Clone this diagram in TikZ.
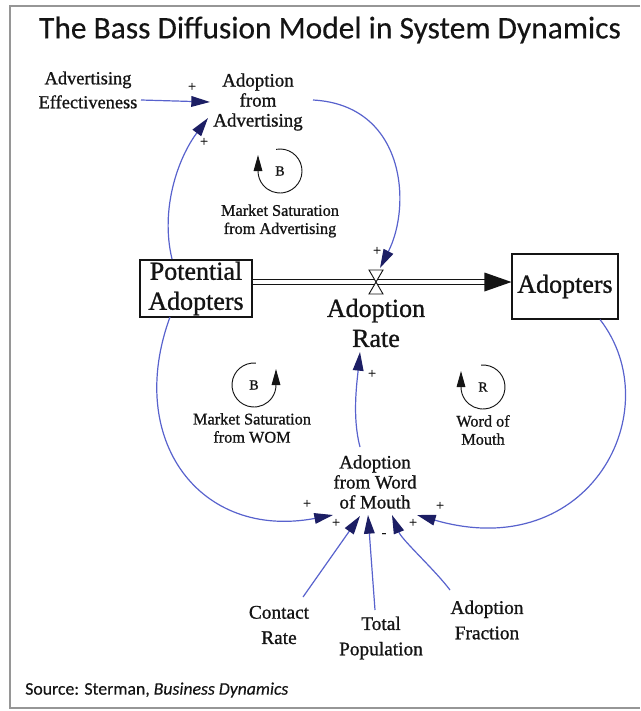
\documentclass[tikz,border=0pt]{standalone}
\usepackage{fontspec}
\setmainfont{Liberation Serif}[FakeBold=1]
\newfontfamily\calib{Carlito}[FakeBold=0.3]
\usetikzlibrary{arrows.meta,calc}
\definecolor{linkblue}{RGB}{88,98,205}
\definecolor{headnavy}{RGB}{28,30,100}
\definecolor{framegray}{RGB}{150,150,150}
\definecolor{inkblack}{RGB}{20,20,20}

\tikzset{
  link/.style={draw=linkblue, line width=0.9pt,
    -{Triangle[length=14pt,width=8pt,color=headnavy]}},
  loopmark/.style={draw=inkblack, line width=0.7pt,
    -{Triangle[length=12pt,width=6.5pt,color=inkblack]}},
  lbl/.style={align=center, inner sep=0pt, text=inkblack,
    font=\fontsize{13.8}{18}\selectfont},
  lblmid/.style={align=center, inner sep=0pt, text=inkblack,
    font=\fontsize{14.2}{15}\selectfont},
  lblbot/.style={align=center, inner sep=0pt, text=inkblack,
    font=\fontsize{14.5}{19}\selectfont},
  loopname/.style={align=center, inner sep=0pt, text=inkblack,
    font=\fontsize{12.2}{13.6}\selectfont},
  stock/.style={draw=inkblack, line width=0.8pt, align=center, inner sep=0pt,
    text=inkblack, font=\fontsize{19.5}{22.5}\selectfont},
  bigtext/.style={align=center, inner sep=0pt, text=inkblack,
    font=\fontsize{19.5}{22.5}\selectfont},
  sgn/.style={inner sep=0pt, text=inkblack, font=\fontsize{10.5}{12}\selectfont},
  looplet/.style={inner sep=0pt, text=inkblack, font=\fontsize{10.5}{12}\selectfont},
  pipe/.style={draw=inkblack, line width=0.7pt, double=white, double distance=2.6pt},
}

\begin{document}
\begin{tikzpicture}[x=0.75pt,y=0.75pt]
\useasboundingbox (0,0) rectangle (640,-711);

% frame
\draw[framegray, line width=1.1pt] (640,-6) -- (10,-6) -- (10,-708) -- (640,-708);

% title and source
\node[font=\calib\fontsize{23.6}{28}\selectfont, text=inkblack] (title) at (330,-30)
  {The Bass Diffusion Model in System Dynamics};
\node[anchor=west, inner sep=0pt, font=\calib\fontsize{13.3}{15}\selectfont, text=inkblack]
  (src) at (25,-690) {Source: Sterman, \textit{Business Dynamics}};

% variables
\node[lbl] (adeff) at (88,-90) {Advertising\\Effectiveness};
\node[lblmid] (adadv) at (258,-102) {Adoption\\from\\Advertising};
\node[stock, minimum width=84pt, minimum height=42.75pt] (pa) at (196,-288.5)
  {Potential\\Adopters};
\node[stock, minimum width=79.5pt, minimum height=48.75pt] (ad) at (565,-286.5)
  {Adopters};
\node[bigtext] (ar) at (376,-323) {Adoption\\Rate};
\coordinate (valve) at (376,-282);
\node[lblmid] (wom) at (375,-482) {Adoption\\from Word\\of Mouth};
\node[lblbot] (cr) at (279,-625) {Contact\\Rate};
\node[lblbot] (tp) at (381,-638) {Total\\Population};
\node[lblbot] (af) at (487,-620) {Adoption\\Fraction};

% flow pipe with valve
\draw[pipe] ($(pa.east)+(0,6.5)$) -- ($(ad.west)+(-24,4.5)$);
\fill[inkblack] ($(ad.west)+(0,4.5)$) -- ++(-27,9.5) -- ++(0,-19) -- cycle;
\draw[inkblack, line width=0.7pt, fill=white]
  ($(valve)+(-7,12)$) -- ($(valve)+(7,12)$) -- ($(valve)+(-7,-12)$)
  -- ($(valve)+(7,-12)$) -- cycle;

% causal links
\draw[link] ($(adeff.center)+(53,-10)$) -- ($(adadv.center)+(-48,0)$);
\draw[link] ($(pa.center)+(-24,29.5)$) .. controls +(-12,50) and +(-30,-40)
  .. ($(adadv.center)+(-50,-16)$);
\draw[link] ($(adadv.center)+(55,2)$) .. controls +(92,-5) and +(32,63)
  .. ($(valve)+(4,14)$);
\draw[link] ($(wom.center)+(-15,35)$) .. controls +(-8,30) and +(-3,-30)
  .. ($(ar.center)+(-16,-29)$);
\draw[link] ($(pa.center)+(-26,-28.5)$) .. controls +(-45,-123) and +(-133,-25)
  .. ($(wom.center)+(-42,-33)$);
\draw[link] ($(ad.center)+(35,-33)$) .. controls +(70,-90.5) and +(173,-50)
  .. ($(wom.center)+(42,-33)$);
\draw[link] ($(cr.center)+(24,28)$) -- ($(wom.center)+(-15,-34)$);
\draw[link] ($(tp.center)+(-6,28)$) -- ($(wom.center)+(-7,-33)$);
\draw[link] ($(af.center)+(-37,30)$) .. controls +(-15,20) and +(10,-25)
  .. ($(wom.center)+(17,-33)$);

% polarities
\node[sgn] (p1) at (192,-87) {+};
\node[sgn] (p2) at (204,-142) {+};
\node[sgn] (p3) at (377,-251) {+};
\node[sgn] (p4) at (372,-374) {+};
\node[sgn] (p5) at (307,-504) {+};
\node[sgn] (p6) at (336,-523) {+};
\node[sgn] (p7) at (384,-535) {-};
\node[sgn] (p8) at (413,-523) {+};
\node[sgn] (p9) at (440,-506) {+};

% loop identifiers: circular arc ending in an upward arrowhead
\node[looplet] (b1) at (280,-171) {B};
\draw[loopmark] (b1.center) ++(100:22) arc[start angle=100, end angle=-180, radius=22]
  -- ++(0,16);
\node[loopname] (b1n) at (280,-221) {Market Saturation\\from Advertising};

\node[looplet] (b2) at (254,-385) {B};
\draw[loopmark] (b2.center) ++(85:22) arc[start angle=85, end angle=360, radius=22]
  -- ++(0,16);
\node[loopname] (b2n) at (252,-428) {Market Saturation\\from WOM};

\node[looplet] (r1) at (483,-387) {R};
\draw[loopmark] (r1.center) ++(95:22) arc[start angle=95, end angle=-180, radius=22]
  -- ++(0,16);
\node[loopname] (r1n) at (483,-430) {Word of\\Mouth};

\end{tikzpicture}
\end{document}
